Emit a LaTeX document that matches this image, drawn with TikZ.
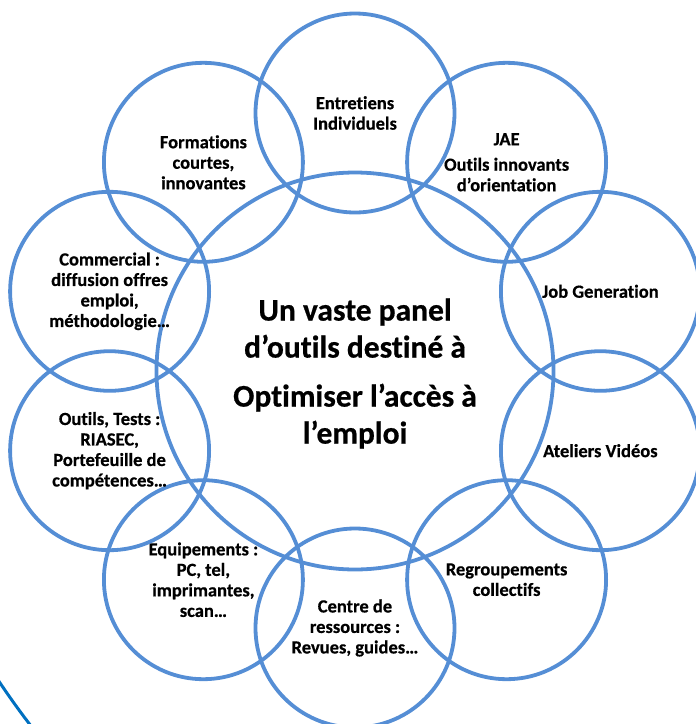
\documentclass[tikz,border=0pt]{standalone}
\usepackage{fontspec}
\setmainfont{Carlito}[Ligatures=NoCommon,BoldFeatures={FakeBold=0.6}]
\definecolor{ringblue}{RGB}{85,142,213}
\definecolor{arcblue}{RGB}{0,112,192}
\begin{document}
\begin{tikzpicture}[x=1pt,y=-1pt,
  ring/.style={circle,draw=ringblue,line width=3.8pt,minimum size=199pt,inner sep=0pt,
    align=center,font=\fontsize{18.5}{20.5}\selectfont\bfseries,text=black},
  hub/.style={circle,draw=ringblue,line width=3.8pt,minimum size=397pt,inner sep=0pt,
    align=center,font=\fontsize{31.5}{37}\selectfont\bfseries,text=black}]
\useasboundingbox (0,0) rectangle (696,724);

\node[hub] (hub) at (355,371) {};
\node[align=center,font=\fontsize{31.5}{37}\selectfont\bfseries,inner sep=0pt] (hubtext) at (355,373.5)
  {Un vaste panel\\d’outils destiné à\\[12pt]Optimiser l’accès à\\l’emploi};

\node[ring] (entretiens) at (355,113) {Entretiens\\Individuels};
\node[ring] (jae) at (506.6,162.3) {JAE\\[5pt]Outils innovants\\d’orientation};
\node[ring] (jobgen) at (600.4,291.3) {Job Generation};
\node[ring] (ateliers) at (600.4,450.7) {Ateliers Vidéos};
\node[ring] (regroup) at (506.6,579.7) {Regroupements\\collectifs};
\node[ring] (centre) at (355,628) {Centre de\\ressources :\\Revues, guides…};
\node[ring] (equip) at (203.4,579.7) {Equipements :\\PC, tel,\\imprimantes,\\scan…};
\node[ring] (outils) at (109.6,450.7) {Outils, Tests :\\RIASEC,\\Portefeuille de\\compétences…};
\node[ring] (commercial) at (109.6,291.3) {Commercial :\\diffusion offres\\emploi,\\méthodologie…};
\node[ring] (formations) at (203.4,162.3) {Formations\\courtes,\\innovantes};

\begin{scope}
  \clip (0,0) rectangle (696,724);
  \coordinate (arcc) at (665,238);
  \draw[draw=arcblue,line width=3pt] (arcc) circle (800pt);
\end{scope}
\end{tikzpicture}
\end{document}
